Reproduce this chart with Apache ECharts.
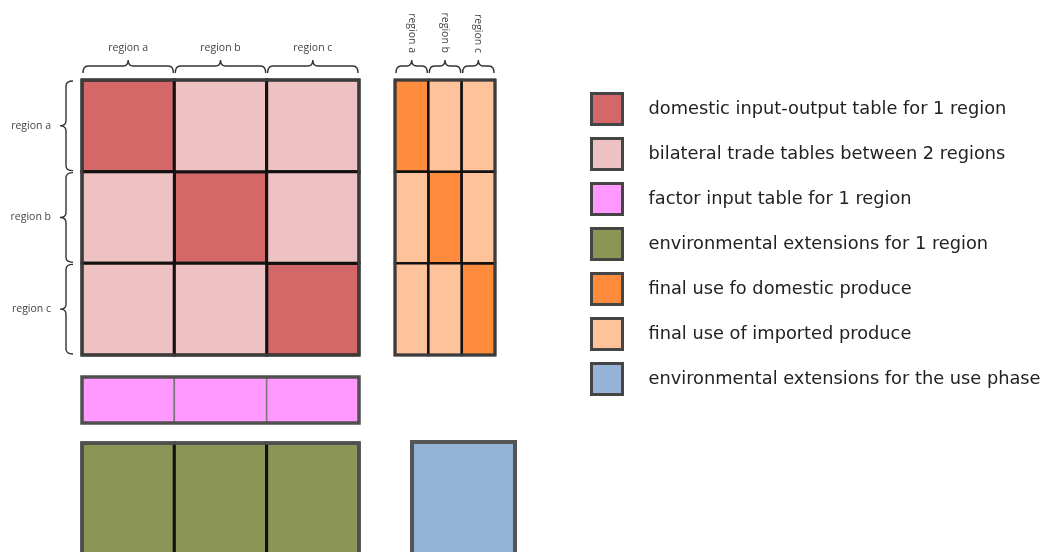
<!DOCTYPE html>
<html>
<head>
<meta charset="utf-8">
<script src="https://cdn.jsdelivr.net/npm/echarts@6/dist/echarts.min.js"></script>
<style>html,body{margin:0;padding:0;background:#fff}#c{width:1042px;height:552px}</style>
</head>
<body>
<div id="c"></div>
<script>
// ---- data ----
const regions = ['region a', 'region b', 'region c'];
const factorRows = ['factor inputs'];
const extensionRows = ['extensions'];
const usePhaseCols = ['use phase'];
const legendNames = [
  'domestic input-output table for 1 region',
  'bilateral trade tables between 2 regions',
  'factor input table for 1 region',
  'environmental extensions for 1 region',
  'final use fo domestic produce',
  'final use of imported produce',
  'environmental extensions for the use phase'
];
// cells: [column region, row region]
const domesticCells = [['region a','region a'],['region b','region b'],['region c','region c']];
const bilateralCells = [['region b','region a'],['region c','region a'],['region a','region b'],['region c','region b'],['region a','region c'],['region b','region c']];
const finalDomesticCells = [['region a','region a'],['region b','region b'],['region c','region c']];
const finalImportedCells = [['region b','region a'],['region c','region a'],['region a','region b'],['region c','region b'],['region a','region c'],['region b','region c']];
const factorCells = [['region a','factor inputs'],['region b','factor inputs'],['region c','factor inputs']];
const extensionCells = [['region a','extensions'],['region b','extensions'],['region c','extensions']];
const usePhaseCells = [['use phase','extensions']];

// ---- styling ----
const colors = ['#D46767', '#EEC1C3', '#FF99FF', '#8B9656', '#FF8B3D', '#FFC39C', '#95B3D7'];
const labelFont = 'Open Sans';

function cellRender(stroke, lw) {
  return function (params, api) {
    const c = api.coord([api.value(0), api.value(1)]);
    const s = api.size([1, 1]);
    return {
      type: 'rect',
      shape: { x: c[0] - s[0] / 2, y: c[1] - s[1] / 2, width: s[0], height: s[1] },
      style: { fill: api.visual('color'), stroke: stroke, lineWidth: lw }
    };
  };
}
function frameRender(nx, ny, stroke, lw) {
  return function (params, api) {
    const c0 = api.coord([0, 0]);
    const c1 = api.coord([nx - 1, ny - 1]);
    const s = api.size([1, 1]);
    return {
      type: 'rect',
      shape: { x: c0[0] - s[0] / 2, y: c0[1] - s[1] / 2, width: c1[0] - c0[0] + s[0], height: c1[1] - c0[1] + s[1] },
      style: { fill: 'none', stroke: stroke, lineWidth: lw }
    };
  };
}
function hBrace(x0, x1, yEnd, yMid, yTip) {
  const xm = (x0 + x1) / 2, r = 5;
  return `M${x0},${yEnd} Q${x0},${yMid} ${x0 + r},${yMid} L${xm - r},${yMid} Q${xm},${yMid} ${xm},${yTip} Q${xm},${yMid} ${xm + r},${yMid} L${x1 - r},${yMid} Q${x1},${yMid} ${x1},${yEnd}`;
}
function vBrace(y0, y1, xEnd, xMid, xTip) {
  const ym = (y0 + y1) / 2, r = 5;
  return `M${xEnd},${y0} Q${xMid},${y0} ${xMid},${y0 + r} L${xMid},${ym - r} Q${xMid},${ym} ${xTip},${ym} Q${xMid},${ym} ${xMid},${ym + r} L${xMid},${y1 - r} Q${xMid},${y1} ${xEnd},${y1}`;
}
function topBraceRender(params, api) {
  const i = api.value(0);
  const c = api.coord([i, 0]);
  const s = api.size([1, 1]);
  const top = c[1] - s[1] / 2;
  const x0 = c[0] - s[0] / 2 + 1, x1 = c[0] + s[0] / 2 - 1;
  return { type: 'path', shape: { pathData: hBrace(x0, x1, top - 7, top - 14, top - 20) },
           style: { fill: 'none', stroke: '#333', lineWidth: 1.4 } };
}
function leftBraceRender(params, api) {
  const j = api.value(1);
  const c = api.coord([0, j]);
  const s = api.size([1, 1]);
  const left = c[0] - s[0] / 2;
  const y0 = c[1] - s[1] / 2 + 1, y1 = c[1] + s[1] / 2 - 1;
  return { type: 'path', shape: { pathData: vBrace(y0, y1, left - 9, left - 16, left - 22) },
           style: { fill: 'none', stroke: '#333', lineWidth: 1.4 } };
}

const hiddenCat = (data, gi, inverse) => ({
  type: 'category', data: data, gridIndex: gi, inverse: !!inverse, show: false
});

const option = {
  backgroundColor: '#fff',
  animation: false,
  color: colors,
  grid: [
    { left: 82, top: 80, width: 277, height: 275, outerBoundsMode: 'none' },
    { left: 395, top: 80, width: 100, height: 275, outerBoundsMode: 'none' },
    { left: 82, top: 377, width: 277, height: 46, outerBoundsMode: 'none' },
    { left: 82, top: 443, width: 277, height: 140, outerBoundsMode: 'none' },
    { left: 412, top: 442, width: 103, height: 140, outerBoundsMode: 'none' }
  ],
  xAxis: [
    { type: 'category', data: regions, gridIndex: 0, position: 'top',
      axisLine: { show: false }, axisTick: { show: false }, splitLine: { show: false },
      axisLabel: { margin: 26, fontSize: 10.5, color: '#444', fontFamily: labelFont } },
    { type: 'category', data: regions, gridIndex: 1, position: 'top',
      axisLine: { show: false }, axisTick: { show: false }, splitLine: { show: false },
      axisLabel: { margin: 27, rotate: 90, fontSize: 10.5, color: '#444', fontFamily: labelFont } },
    hiddenCat(regions, 2),
    hiddenCat(regions, 3),
    hiddenCat(usePhaseCols, 4)
  ],
  yAxis: [
    { type: 'category', data: regions, gridIndex: 0, inverse: true,
      axisLine: { show: false }, axisTick: { show: false }, splitLine: { show: false },
      axisLabel: { margin: 31, fontSize: 10.5, color: '#444', fontFamily: labelFont } },
    hiddenCat(regions, 1, true),
    hiddenCat(factorRows, 2, true),
    hiddenCat(extensionRows, 3, true),
    hiddenCat(extensionRows, 4, true)
  ],
  legend: {
    orient: 'vertical', left: 585, top: 87,
    itemWidth: 31, itemHeight: 31, itemGap: 11,
    icon: 'rect', selectedMode: false,
    data: legendNames,
    itemStyle: { borderColor: '#454545', borderWidth: 3 },
    textStyle: { fontSize: 17.8, lineHeight: 22, fontFamily: 'DejaVu Sans', color: '#222', padding: [0, 0, 0, 21] }
  },
  series: [
    { type: 'custom', name: legendNames[0], xAxisIndex: 0, yAxisIndex: 0, data: domesticCells,
      itemStyle: { color: colors[0] }, renderItem: cellRender('#111', 3), z: 2 },
    { type: 'custom', name: legendNames[1], xAxisIndex: 0, yAxisIndex: 0, data: bilateralCells,
      itemStyle: { color: colors[1] }, renderItem: cellRender('#111', 3), z: 2 },
    { type: 'custom', name: legendNames[2], xAxisIndex: 2, yAxisIndex: 2, data: factorCells,
      itemStyle: { color: colors[2] }, renderItem: cellRender('#777', 1.5), z: 2 },
    { type: 'custom', name: legendNames[3], xAxisIndex: 3, yAxisIndex: 3, data: extensionCells,
      itemStyle: { color: colors[3] }, renderItem: cellRender('#111', 3), z: 2 },
    { type: 'custom', name: legendNames[4], xAxisIndex: 1, yAxisIndex: 1, data: finalDomesticCells,
      itemStyle: { color: colors[4] }, renderItem: cellRender('#111', 2.5), z: 2 },
    { type: 'custom', name: legendNames[5], xAxisIndex: 1, yAxisIndex: 1, data: finalImportedCells,
      itemStyle: { color: colors[5] }, renderItem: cellRender('#111', 2.5), z: 2 },
    { type: 'custom', name: legendNames[6], xAxisIndex: 4, yAxisIndex: 4, data: usePhaseCells,
      itemStyle: { color: colors[6] }, renderItem: cellRender('#555', 0), z: 2 },
    // frames
    { type: 'custom', xAxisIndex: 0, yAxisIndex: 0, data: [[0, 0]], renderItem: frameRender(3, 3, '#3c3c3c', 3), z: 3, silent: true },
    { type: 'custom', xAxisIndex: 1, yAxisIndex: 1, data: [[0, 0]], renderItem: frameRender(3, 3, '#3c3c3c', 3), z: 3, silent: true },
    { type: 'custom', xAxisIndex: 2, yAxisIndex: 2, data: [[0, 0]], renderItem: frameRender(3, 1, '#505050', 3.5), z: 3, silent: true },
    { type: 'custom', xAxisIndex: 3, yAxisIndex: 3, data: [[0, 0]], renderItem: frameRender(3, 1, '#505050', 3.5), z: 3, silent: true },
    { type: 'custom', xAxisIndex: 4, yAxisIndex: 4, data: [[0, 0]], renderItem: frameRender(1, 1, '#555', 4), z: 3, silent: true },
    // braces
    { type: 'custom', xAxisIndex: 0, yAxisIndex: 0, data: regions.map((r, i) => [i, 0]), renderItem: topBraceRender, z: 3, silent: true },
    { type: 'custom', xAxisIndex: 1, yAxisIndex: 1, data: regions.map((r, i) => [i, 0]), renderItem: topBraceRender, z: 3, silent: true },
    { type: 'custom', xAxisIndex: 0, yAxisIndex: 0, data: regions.map((r, i) => [0, i]), renderItem: leftBraceRender, z: 3, silent: true }
  ]
};
const chart = echarts.init(document.getElementById('c'));
chart.setOption(option);
</script>
</body>
</html>
